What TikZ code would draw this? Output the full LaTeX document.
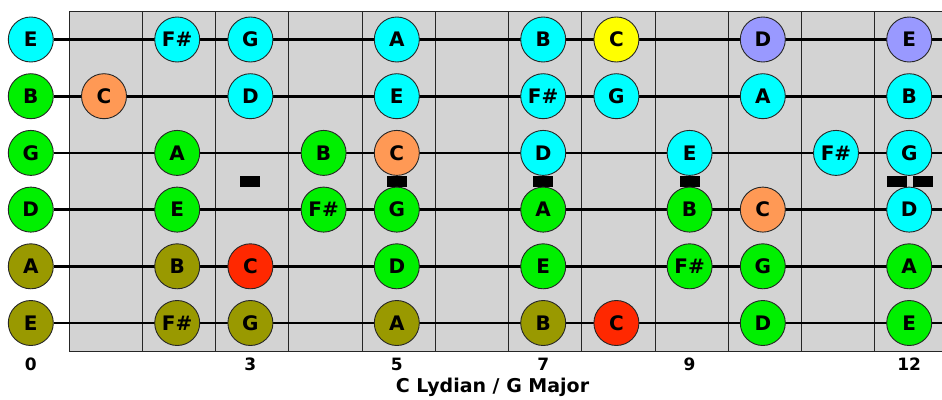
\documentclass[tikz,border=0pt]{standalone}
\usepackage{fontspec}
\setmainfont{DejaVu Sans}
\usetikzlibrary{backgrounds}

\definecolor{boardgrey}{RGB}{211,211,211}
\definecolor{notecyan}{RGB}{0,255,255}
\definecolor{notegreen}{RGB}{0,240,0}
\definecolor{noteolive}{RGB}{153,153,0}
\definecolor{noteorange}{RGB}{255,153,85}
\definecolor{notered}{RGB}{255,40,0}
\definecolor{noteyellow}{RGB}{255,255,0}
\definecolor{notelilac}{RGB}{153,153,255}

\begin{document}
\begin{tikzpicture}[x=1pt, y=-1pt,
    note/.style ={circle, draw=black!85, line width=0.9pt, minimum size=45pt,
      inner sep=0pt, font=\bfseries\fontsize{20}{20}\selectfont},
    cyannote/.style ={note, fill=notecyan},
    greennote/.style ={note, fill=notegreen},
    olivenote/.style ={note, fill=noteolive},
    orangenote/.style ={note, fill=noteorange},
    rednote/.style ={note, fill=notered},
    yellownote/.style ={note, fill=noteyellow},
    lilacnote/.style ={note, fill=notelilac},
    guitarstring/.style ={line width=2.6pt, black},
    fretline/.style ={line width=1pt, black!85},
    inlay/.style ={fill=black},
    fretnum/.style ={anchor=base, font=\bfseries\fontsize{17}{17}\selectfont}]
   \useasboundingbox (0,0) rectangle (942,399);

   % high E string
   \node[cyannote] (s1f0)  at (30.8,39.5)  {E};
   \node[cyannote] (s1f2)  at (177.2,39.5) {F\#};
   \node[cyannote] (s1f3)  at (250.4,39.5) {G};
   \node[cyannote] (s1f5)  at (396.8,39.5) {A};
   \node[cyannote] (s1f7)  at (543.2,39.5) {B};
   \node[yellownote] (s1f8)  at (616.4,39.5) {C};
   \node[lilacnote] (s1f10) at (762.8,39.5) {D};
   \node[lilacnote] (s1f12) at (909.2,39.5) {E};

   % B string
   \node[greennote] (s2f0)  at (30.8,96.2)  {B};
   \node[orangenote] (s2f1)  at (104.0,96.2) {C};
   \node[cyannote] (s2f3)  at (250.4,96.2) {D};
   \node[cyannote] (s2f5)  at (396.8,96.2) {E};
   \node[cyannote] (s2f7)  at (543.2,96.2) {F\#};
   \node[cyannote] (s2f8)  at (616.4,96.2) {G};
   \node[cyannote] (s2f10) at (762.8,96.2) {A};
   \node[cyannote] (s2f12) at (909.2,96.2) {B};

   % G string
   \node[greennote] (s3f0)  at (30.8,152.9)  {G};
   \node[greennote] (s3f2)  at (177.2,152.9) {A};
   \node[greennote] (s3f4)  at (323.6,152.9) {B};
   \node[orangenote] (s3f5)  at (396.8,152.9) {C};
   \node[cyannote] (s3f7)  at (543.2,152.9) {D};
   \node[cyannote] (s3f9)  at (689.6,152.9) {E};
   \node[cyannote] (s3f11) at (836.0,152.9) {F\#};
   \node[cyannote] (s3f12) at (909.2,152.9) {G};

   % D string
   \node[greennote] (s4f0)  at (30.8,209.6)  {D};
   \node[greennote] (s4f2)  at (177.2,209.6) {E};
   \node[greennote] (s4f4)  at (323.6,209.6) {F\#};
   \node[greennote] (s4f5)  at (396.8,209.6) {G};
   \node[greennote] (s4f7)  at (543.2,209.6) {A};
   \node[greennote] (s4f9)  at (689.6,209.6) {B};
   \node[orangenote] (s4f10) at (762.8,209.6) {C};
   \node[cyannote] (s4f12) at (909.2,209.6) {D};

   % A string
   \node[olivenote] (s5f0)  at (30.8,266.3)  {A};
   \node[olivenote] (s5f2)  at (177.2,266.3) {B};
   \node[rednote] (s5f3)  at (250.4,266.3) {C};
   \node[greennote] (s5f5)  at (396.8,266.3) {D};
   \node[greennote] (s5f7)  at (543.2,266.3) {E};
   \node[greennote] (s5f9)  at (689.6,266.3) {F\#};
   \node[greennote] (s5f10) at (762.8,266.3) {G};
   \node[greennote] (s5f12) at (909.2,266.3) {A};

   % low E string
   \node[olivenote] (s6f0)  at (30.8,323.0)  {E};
   \node[olivenote] (s6f2)  at (177.2,323.0) {F\#};
   \node[olivenote] (s6f3)  at (250.4,323.0) {G};
   \node[olivenote] (s6f5)  at (396.8,323.0) {A};
   \node[olivenote] (s6f7)  at (543.2,323.0) {B};
   \node[rednote] (s6f8)  at (616.4,323.0) {C};
   \node[greennote] (s6f10) at (762.8,323.0) {D};
   \node[greennote] (s6f12) at (909.2,323.0) {E};

   \coordinate (s1end) at (942,39.5);
   \coordinate (s2end) at (942,96.2);
   \coordinate (s3end) at (942,152.9);
   \coordinate (s4end) at (942,209.6);
   \coordinate (s5end) at (942,266.3);
   \coordinate (s6end) at (942,323.0);

   \begin{pgfonlayer}{background}
   \draw[fill=boardgrey, draw=black!85, line width=1pt] (69,11) rectangle (946,351);
   \draw[fretline] (142.3,11) -- (142.3,351);
   \draw[fretline] (215.5,11) -- (215.5,351);
   \draw[fretline] (288.8,11) -- (288.8,351);
   \draw[fretline] (362.0,11) -- (362.0,351);
   \draw[fretline] (435.3,11) -- (435.3,351);
   \draw[fretline] (508.5,11) -- (508.5,351);
   \draw[fretline] (581.8,11) -- (581.8,351);
   \draw[fretline] (655.0,11) -- (655.0,351);
   \draw[fretline] (728.3,11) -- (728.3,351);
   \draw[fretline] (801.5,11) -- (801.5,351);
   \draw[fretline] (874.8,11) -- (874.8,351);

   \fill[inlay] (240.4,176) rectangle (260.4,186.5);
   \fill[inlay] (386.8,176) rectangle (406.8,186.5);
   \fill[inlay] (533.2,176) rectangle (553.2,186.5);
   \fill[inlay] (679.6,176) rectangle (699.6,186.5);
   \fill[inlay] (887,176) rectangle (907,186.5);
   \fill[inlay] (913,176) rectangle (932.5,186.5);

   \draw[guitarstring] (s1f0) to (s1end);
   \draw[guitarstring] (s2f0) to (s2end);
   \draw[guitarstring] (s3f0) to (s3end);
   \draw[guitarstring] (s4f0) to (s4end);
   \draw[guitarstring] (s5f0) to (s5end);
   \draw[guitarstring] (s6f0) to (s6end);
   \end{pgfonlayer}

   \node[fretnum] (n0)  at (30.8,370)  {0};
   \node[fretnum] (n3)  at (250.4,370) {3};
   \node[fretnum] (n5)  at (396.8,370) {5};
   \node[fretnum] (n7)  at (543.2,370) {7};
   \node[fretnum] (n9)  at (689.6,370) {9};
   \node[fretnum] (n12) at (909.2,370) {12};
   \node[fretnum, font=\bfseries\fontsize{19}{19}\selectfont] (title) at (492.5,392.5)
     {C Lydian / G Major};

 \end{tikzpicture}
\end{document}
